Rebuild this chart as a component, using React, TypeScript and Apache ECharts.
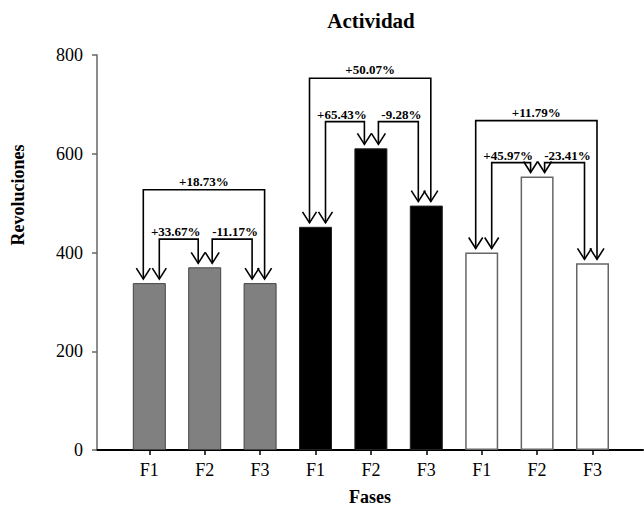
import React, { useEffect, useRef } from "react";
import * as echarts from "echarts";

const categories = ["F1", "F2", "F3", "F1", "F2", "F3", "F1", "F2", "F3"];
const grayValues = [338, 370, 338];
const blackValues = [452, 611, 495];
const whiteValues = [400, 554, 378];
const yTicks = [0, 200, 400, 600, 800];

// brackets: from bar index, to bar index, level of the bracket, label
const bracketFrom = [0, 0, 1, 3, 3, 4, 6, 6, 7];
const bracketTo = [2, 1, 2, 5, 4, 5, 8, 7, 8];
const bracketLevel = [527, 427, 427, 753, 665, 665, 667, 582, 582];
const bracketLabel = ["+18.73%", "+33.67%", "-11.17%", "+50.07%", "+65.43%", "-9.28%", "+11.79%", "+45.97%", "-23.41%"];

const FONT = '"Liberation Serif", "Times New Roman", serif';

export default function App() {
  const ref = useRef<HTMLDivElement>(null);
  useEffect(() => {
    if (!ref.current) return;
    const chart = echarts.init(ref.current, null, { renderer: "svg" });
    const allValues = [...grayValues, ...blackValues, ...whiteValues];
    const pad = (vals: number[], group: number) =>
      categories.map((_, i) => (Math.floor(i / 3) === group ? vals[i % 3] : "-"));

    const bracketData = bracketFrom.map((f, i) => [f, bracketTo[i], bracketLevel[i]]);

    const option: any = {
      animation: false,
      backgroundColor: "#fff",
      title: {
        text: "Actividad",
        left: 366,
        top: 5,
        textAlign: "center",
        textStyle: { fontFamily: FONT, fontWeight: "bold", fontSize: 21, color: "#000" },
      },
      grid: [
        { left: 121.6, width: 498.6, top: 55, height: 395 },
        { left: 97, right: 1, top: 55, height: 395 },
      ],
      xAxis: [
        {
          type: "category",
          gridIndex: 0,
          data: categories,
          axisLine: { show: false },
          axisTick: { show: true, alignWithLabel: true, length: 5, lineStyle: { color: "#000", width: 1.5 } },
          axisLabel: { fontFamily: FONT, fontSize: 18, color: "#000", margin: 11 },
          splitLine: { show: false },
        },
        {
          type: "value",
          gridIndex: 1,
          min: 0,
          max: 1,
          axisLine: { show: true, onZero: false, lineStyle: { color: "#000", width: 2 } },
          axisTick: { show: false },
          axisLabel: { show: false },
          splitLine: { show: false },
          name: "Fases",
          nameLocation: "middle",
          nameGap: 38,
          nameTextStyle: { fontFamily: FONT, fontWeight: "bold", fontSize: 18, color: "#000" },
        },
      ],
      yAxis: [
        { type: "value", gridIndex: 0, min: 0, max: 800, show: false, splitLine: { show: false } },
        {
          type: "value",
          gridIndex: 1,
          min: yTicks[0],
          max: yTicks[yTicks.length - 1],
          interval: yTicks[1] - yTicks[0],
          axisLine: { show: true, lineStyle: { color: "#666", width: 1.5 } },
          axisTick: { show: true, length: 5, lineStyle: { color: "#666", width: 1.5 } },
          axisLabel: { fontFamily: FONT, fontSize: 18, color: "#000", margin: 14 },
          splitLine: { show: false },
        },
      ],
      graphic: [
        {
          type: "text",
          x: 18,
          y: 195,
          rotation: Math.PI / 2,
          style: {
            text: "Revoluciones",
            font: `bold 18px ${FONT}`,
            fill: "#000",
            align: "center",
            verticalAlign: "middle",
          },
        },
      ],
      series: [
        {
          type: "bar",
          xAxisIndex: 0,
          yAxisIndex: 0,
          data: pad(grayValues, 0),
          barWidth: 33,
          barGap: "-100%",
          itemStyle: { color: "#808080", borderColor: "#444", borderWidth: 1 },
        },
        {
          type: "bar",
          xAxisIndex: 0,
          yAxisIndex: 0,
          data: pad(blackValues, 1),
          barWidth: 33,
          barGap: "-100%",
          itemStyle: { color: "#000", borderColor: "#222", borderWidth: 1 },
        },
        {
          type: "bar",
          xAxisIndex: 0,
          yAxisIndex: 0,
          data: pad(whiteValues, 2),
          barWidth: 33,
          barGap: "-100%",
          itemStyle: { color: "#fff", borderColor: "#666", borderWidth: 1.5 },
        },
        {
          type: "custom",
          xAxisIndex: 0,
          yAxisIndex: 0,
          clip: false,
          z: 10,
          data: bracketData,
          encode: { x: [0, 1], y: 2 },
          renderItem: (params: any, api: any) => {
            const from = api.value(0);
            const to = api.value(1);
            const level = api.value(2);
            const label = bracketLabel[params.dataIndex];
            let fromOff: number, toOff: number, shift: number, gap: number;
            if (to - from === 2) {
              fromOff = -6; toOff = 4.5; shift = 0; gap = 2;
            } else if (from % 3 === 0) {
              fromOff = 10; toOff = -6.5; shift = -3; gap = 1;
            } else {
              fromOff = 7.5; toOff = -8; shift = 3; gap = 1;
            }
            const p1 = api.coord([from, level]);
            const p2 = api.coord([to, level]);
            const t1 = api.coord([from, allValues[from]])[1] - 4;
            const t2 = api.coord([to, allValues[to]])[1] - 4;
            const x1 = p1[0] + fromOff;
            const x2 = p2[0] + toOff;
            const yl = p1[1];
            const ls = { stroke: "#000", lineWidth: 1.6, fill: null };
            const head = (x: number, y: number) => ({
              type: "polyline",
              shape: { points: [[x - 7, y - 11], [x, y], [x + 7, y - 11]] },
              style: ls,
            });
            return {
              type: "group",
              children: [
                {
                  type: "polyline",
                  shape: { points: [[x1, t1], [x1, yl], [x2, yl], [x2, t2]] },
                  style: ls,
                },
                head(x1, t1),
                head(x2, t2),
                {
                  type: "text",
                  style: {
                    text: label,
                    x: (x1 + x2) / 2 + shift,
                    y: yl - gap,
                    align: "center",
                    verticalAlign: "bottom",
                    font: `bold 13px ${FONT}`,
                    fill: "#000",
                  },
                },
              ],
            };
          },
        },
      ],
    };
    chart.setOption(option);
    return () => chart.dispose();
  }, []);
  return (
    <div
      ref={ref}
      style={{ position: "fixed", left: 0, top: 0, width: 644, height: 511, background: "#fff" }}
    />
  );
}
